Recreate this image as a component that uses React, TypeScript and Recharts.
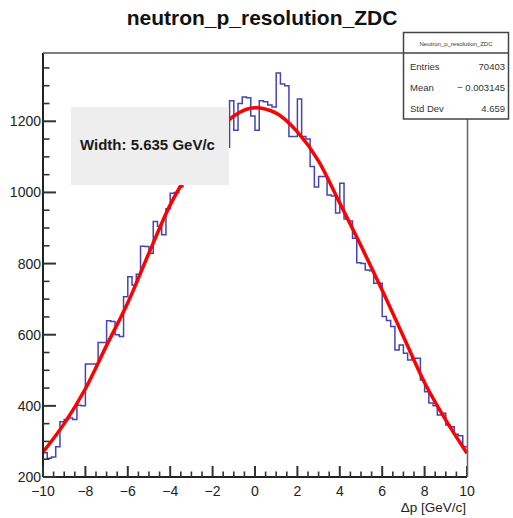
import React from "react";
import { ComposedChart, Line, XAxis, YAxis } from "recharts";

// histogram: 100 bins of 0.2 GeV/c from -10 to 10
const binLow = -10;
const binWidth = 0.2;
const counts = [
  268, 253, 256, 285, 355, 362, 366, 362, 402, 400,
  518, 518, 518, 578, 578, 639, 637, 600, 595, 707,
  763, 740, 770, 849, 848, 829, 918, 905, 881, 954,
  998, 1000, 1015, 1035, 1060, 1080, 1095, 1120, 1140, 1155,
  1175, 1190, 1200, 1127, 1258, 1175, 1250, 1268, 1266, 1215,
  1175, 1258, 1255, 1246, 1240, 1336, 1305, 1300, 1157, 1157,
  1263, 1157, 1150, 1073, 1015, 1045, 1045, 993, 990, 942,
  1026, 925, 920, 871, 802, 800, 782, 780, 745, 745,
  651, 640, 623, 557, 571, 548, 529, 534, 534, 473,
  440, 408, 400, 374, 379, 346, 341, 320, 316, 285,
];

// gaussian fit
const fitX = [-10, -9, -8, -7, -6, -5, -4, -3, -2, -1, 0, 1, 2, 3, 4, 5, 6, 7, 8, 9, 10];
const fitY = [270, 350, 448, 570, 690, 830, 965, 1068, 1157, 1215, 1238, 1223, 1170, 1088, 970, 850, 725, 595, 465, 360, 267];

const xMajor = [-10, -8, -6, -4, -2, 0, 2, 4, 6, 8, 10];
const xTicks = [
  -10, -9.5, -9, -8.5, -8, -7.5, -7, -6.5, -6, -5.5, -5, -4.5, -4, -3.5, -3, -2.5, -2, -1.5, -1, -0.5,
  0, 0.5, 1, 1.5, 2, 2.5, 3, 3.5, 4, 4.5, 5, 5.5, 6, 6.5, 7, 7.5, 8, 8.5, 9, 9.5, 10,
];
const yMajor = [200, 400, 600, 800, 1000, 1200];
const yTicks = [
  200, 250, 300, 350, 400, 450, 500, 550, 600, 650, 700, 750, 800, 850, 900, 950,
  1000, 1050, 1100, 1150, 1200, 1250, 1300, 1350,
];

const statsRows = [
  ["Entries", "70403"],
  ["Mean", "\u2212 0.003145"],
  ["Std Dev", "4.659"],
];

const histData = counts.map((c, i) => ({ x: binLow + i * binWidth, y: c }));
histData.push({ x: binLow + counts.length * binWidth, y: counts[counts.length - 1] });
const fitData = fitX.map((x, i) => ({ x, f: fitY[i] }));

const W = 513;
const H = 518;
const LEFT = 43;
const RIGHT = 467;
const TOP = 53;
const BOTTOM = 477;
const FONT = "'Liberation Sans', Arial, Helvetica, sans-serif";

const fmt = (v: number) => (v < 0 ? "\u2212" + Math.abs(v) : String(v));

function XTick(props: any) {
  const { x, payload } = props;
  const v = payload.value;
  const major = xMajor.includes(v);
  return (
    <g>
      <line x1={x} x2={x} y1={BOTTOM} y2={BOTTOM - (major ? 11 : 5.5)} stroke="#333" strokeWidth={major ? 2 : 1.6} />
      {major && (
        <text x={x} y={495.5} textAnchor="middle" fontSize={14} fontFamily={FONT} fill="#222">
          {fmt(v)}
        </text>
      )}
    </g>
  );
}

function YTick(props: any) {
  const { y, payload } = props;
  const v = payload.value;
  const major = yMajor.includes(v);
  return (
    <g>
      <line x1={LEFT} x2={LEFT + (major ? 13 : 6.5)} y1={y} y2={y} stroke="#333" strokeWidth={major ? 2 : 1.6} />
      {major && (
        <text x={41} y={y + 5} textAnchor="end" fontSize={14} fontFamily={FONT} fill="#222">
          {v}
        </text>
      )}
    </g>
  );
}

export default function App() {
  return (
    <div style={{ position: "absolute", left: 0, top: 0, width: W, height: H, background: "#fff" }}>
      <ComposedChart
        width={W}
        height={H}
        margin={{ top: TOP, right: W - RIGHT, left: 0, bottom: 0 }}
      >
        <XAxis
          type="number"
          dataKey="x"
          domain={[-10, 10]}
          ticks={xTicks}
          interval={0}
          allowDataOverflow
          height={H - BOTTOM}
          tickLine={false}
          axisLine={{ stroke: "#222", strokeWidth: 2 }}
          tick={(p: any) => <XTick {...p} />}
        />
        <YAxis
          type="number"
          domain={[200, 1392]}
          ticks={yTicks}
          interval={0}
          allowDataOverflow
          width={LEFT}
          tickLine={false}
          axisLine={{ stroke: "#222", strokeWidth: 2 }}
          tick={(p: any) => <YTick {...p} />}
        />
        <Line
          data={histData}
          dataKey="y"
          type="stepAfter"
          stroke="#4444b8"
          strokeWidth={1.5}
          dot={false}
          isAnimationActive={false}
        />
        <Line
          data={fitData}
          dataKey="f"
          type="monotone"
          stroke="#ff0000"
          strokeWidth={3.5}
          dot={false}
          isAnimationActive={false}
        />
      </ComposedChart>
      <svg
        width={W}
        height={H}
        style={{ position: "absolute", left: 0, top: 0, pointerEvents: "none" }}
      >
        <text x={262} y={25} textAnchor="middle" fontSize={21} fontWeight="bold" fontFamily={FONT} fill="#111">
          neutron_p_resolution_ZDC
        </text>
        <line x1={LEFT} x2={404} y1={TOP} y2={TOP} stroke="#555" strokeWidth={1.5} />
        <line x1={RIGHT + 0.5} x2={RIGHT + 0.5} y1={119} y2={BOTTOM} stroke="#666" strokeWidth={1.5} />

        <rect x={71} y={107} width={158} height={78} fill="#eeeeee" />
        <text x={80} y={150} fontSize={15} fontWeight="bold" fontFamily={FONT} fill="#1a1a1a">
          Width: 5.635 GeV/c
        </text>

        <rect x={403.5} y={32.5} width={105} height={86.5} fill="#fff" stroke="#444" strokeWidth={1.5} />
        <line x1={403.5} x2={508.5} y1={TOP} y2={TOP} stroke="#444" strokeWidth={1.5} />
        <text x={456} y={46} textAnchor="middle" fontSize={6} fontFamily={FONT} fill="#333">
          Neutron_p_resolution_ZDC
        </text>
        {statsRows.map((r, i) => (
          <g key={r[0]}>
            <text x={410} y={69.5 + i * 21} fontSize={9.5} fontFamily={FONT} fill="#333">
              {r[0]}
            </text>
            <text x={505} y={69.5 + i * 21} textAnchor="end" fontSize={9.5} fontFamily={FONT} fill="#333">
              {r[1]}
            </text>
          </g>
        ))}

        <text x={466} y={512} textAnchor="end" fontSize={13.5} fontFamily={FONT} fill="#222">
          Δp [GeV/c]
        </text>
      </svg>
    </div>
  );
}
